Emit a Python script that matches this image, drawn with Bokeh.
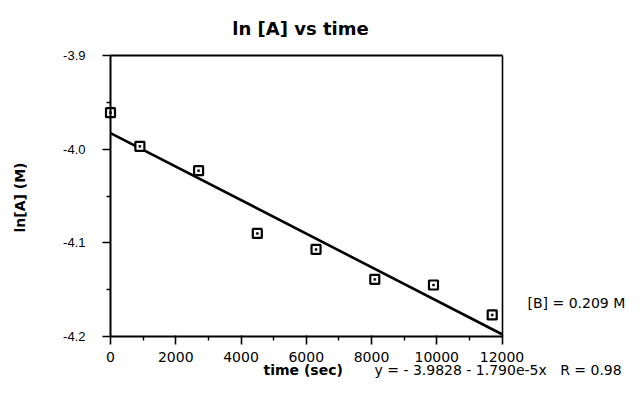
import math
from bokeh.plotting import figure
from bokeh.models import Range1d, FixedTicker, Label, ColumnDataSource, LinearAxis
from bokeh.embed import file_html
from bokeh.resources import INLINE

# ---- data ----
time_sec = [0, 900, 2700, 4500, 6300, 8100, 9900, 11700]
ln_A = [-3.961, -3.997, -4.023, -4.090, -4.107, -4.139, -4.145, -4.177]
fit_intercept = -3.9828
fit_slope = -1.790e-5
x_lo, x_hi = 0, 12000
y_lo, y_hi = -4.2, -3.9
x_ticks = [0, 2000, 4000, 6000, 8000, 10000, 12000]
x_minor = [1000, 3000, 5000, 7000, 9000, 11000]
y_ticks = [-4.2, -4.1, -4.0, -3.9]
y_tick_labels = ["-4.2", "-4.1", "-4.0", "-3.9"]
y_minor = [-4.15, -4.05, -3.95]
title_text = "ln [A] vs time"
x_label = "time (sec)"
y_label = "ln[A] (M)"
eq_text = "y = - 3.9828 - 1.790e-5x\u00a0\u00a0\u00a0R = 0.98"
b_text = "[B] = 0.209 M"

# ---- layout (pixels) ----
W, H = 627, 378
box_left, box_right, box_top, box_bottom = 110, 501.5, 55, 336
sx = (box_right - box_left) / (x_hi - x_lo)
sy = (box_bottom - box_top) / (y_hi - y_lo)
x_start = x_lo - box_left / sx
x_end = x_hi + (W - box_right) / sx
y_end = y_hi + box_top / sy
y_start = y_lo - (H - box_bottom) / sy
label_shift = 5  # observed baseline offset of Label texts


def X(px):
    return x_start + px / sx


def Y(py):
    return y_end - py / sy


p = figure(width=W, height=H, output_backend="svg", toolbar_location=None,
           x_range=Range1d(x_start, x_end), y_range=Range1d(y_start, y_end),
           min_border_left=0, min_border_right=0, min_border_top=0,
           min_border_bottom=0)
p.background_fill_color = "white"
p.border_fill_color = "white"
p.grid.visible = False
p.outline_line_color = None

# bottom axis
xa = p.xaxis[0]
xa.fixed_location = y_lo
xa.bounds = (x_lo, x_hi)
xa.ticker = FixedTicker(ticks=x_ticks, minor_ticks=x_minor)
xa.axis_line_width = 2
xa.major_tick_out = 8
xa.major_tick_in = 1
xa.minor_tick_out = 4
xa.minor_tick_in = 0
xa.major_tick_line_width = 1.6
xa.minor_tick_line_width = 1.4
xa.major_label_standoff = 7
xa.major_label_text_font = "DejaVu Sans"
xa.major_label_text_font_size = "14px"
xa.major_label_text_color = "black"

# left axis
ya = p.yaxis[0]
ya.fixed_location = x_lo
ya.bounds = (y_lo, y_hi)
ya.ticker = FixedTicker(ticks=y_ticks, minor_ticks=y_minor)
ya.major_label_overrides = {t: s for t, s in zip(y_ticks, y_tick_labels)}
ya.axis_line_width = 2
ya.major_tick_out = 8
ya.major_tick_in = 0
ya.minor_tick_out = 4
ya.minor_tick_in = 0
ya.major_tick_line_width = 1.6
ya.minor_tick_line_width = 1.4
ya.major_label_standoff = 17
ya.major_label_text_font = "Liberation Sans"
ya.major_label_text_font_size = "13px"
ya.major_label_text_color = "black"

# top and right box edges
top_ax = LinearAxis(fixed_location=y_hi, bounds=(x_lo, x_hi),
                    ticker=FixedTicker(ticks=[]), axis_line_width=2,
                    major_tick_line_color=None, minor_tick_line_color=None,
                    major_label_text_font_size="0px")
right_ax = LinearAxis(fixed_location=x_hi, bounds=(y_lo, y_hi),
                      ticker=FixedTicker(ticks=[]), axis_line_width=1.6,
                      major_tick_line_color=None, minor_tick_line_color=None,
                      major_label_text_font_size="0px")
p.add_layout(top_ax, "above")
p.add_layout(right_ax, "right")

# fit line
fit_x = [x_lo, x_hi]
fit_y = [fit_intercept + fit_slope * x for x in fit_x]
p.line(fit_x, fit_y, line_color="black", line_width=2.6)

# data markers
src = ColumnDataSource(dict(x=time_sec, y=ln_A))
p.scatter("x", "y", source=src, marker="square", size=9, fill_color="white",
          line_color="black", line_width=2.2)
p.scatter("x", "y", source=src, marker="square", size=2, fill_color="black",
          line_color="black", line_width=0.5)


# texts
def add_text(txt, px, py, size, bold=False, align="left", baseline="alphabetic",
             angle=0.0, font="DejaVu Sans"):
    p.add_layout(Label(x=X(px), y=Y(py - label_shift), text=txt, text_align=align,
                       text_baseline=baseline, angle=angle, text_font=font,
                       text_font_style="bold" if bold else "normal",
                       text_font_size=size, text_color="black"))


add_text(title_text, 300, 33, "18px", bold=True, align="center")
p.add_layout(Label(x=X(19), y=Y(197), text=y_label, text_align="center",
                   text_baseline="middle", angle=math.pi / 2, text_font="DejaVu Sans",
                   text_font_style="bold", text_font_size="14px", text_color="black"))
add_text(x_label, 263, 374, "14px", bold=True)
add_text(eq_text, 374, 374, "14px")
add_text(b_text, 527, 307.5, "14px")

open("out.html", "w").write(file_html(p, INLINE))
